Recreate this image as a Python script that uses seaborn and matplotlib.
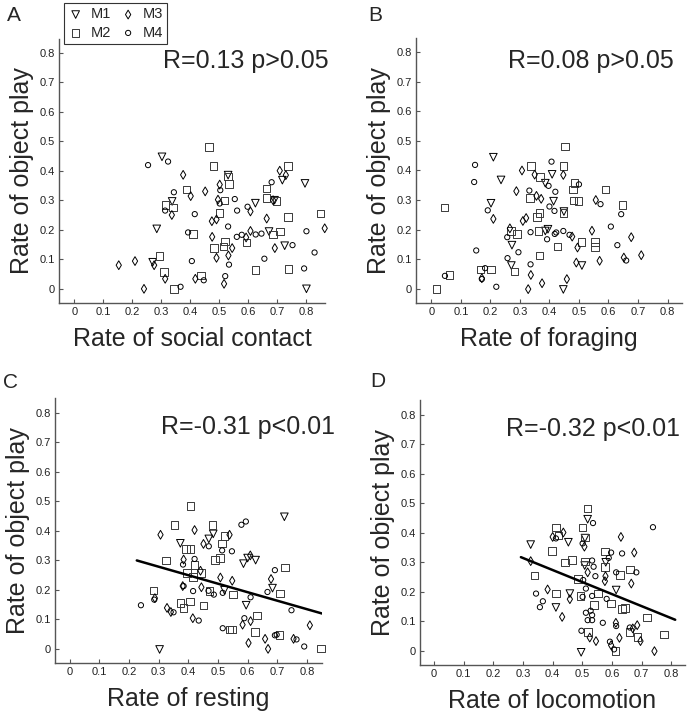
import numpy as np
import pandas as pd
from matplotlib import pyplot as plt
import seaborn as sns

# (rate of behaviour, rate of object play) pairs per monkey
social_M1 = [(0.302, 0.447), (0.337, 0.296), (0.284, 0.203), (0.27, 0.09), (0.624, 0.29), (0.53, 0.385),
             (0.717, 0.368), (0.795, 0.357), (0.671, 0.194), (0.725, 0.146), (0.80, 0.0), (0.69, 0.30)]
social_M2 = [(0.464, 0.481), (0.479, 0.416), (0.53, 0.38), (0.534, 0.356), (0.386, 0.336), (0.314, 0.283),
             (0.34, 0.275), (0.518, 0.299), (0.50, 0.256), (0.409, 0.185), (0.482, 0.139), (0.514, 0.143),
             (0.52, 0.16), (0.593, 0.157), (0.662, 0.34), (0.662, 0.307), (0.697, 0.298), (0.685, 0.184),
             (0.708, 0.194), (0.737, 0.243), (0.849, 0.255), (0.624, 0.063), (0.738, 0.067), (0.294, 0.112),
             (0.309, 0.056), (0.343, 0.0), (0.437, 0.045), (0.737, 0.416)]
social_M3 = [(0.153, 0.08), (0.209, 0.094), (0.24, 0.0), (0.275, 0.08), (0.313, 0.034), (0.336, 0.25),
             (0.375, 0.386), (0.401, 0.314), (0.451, 0.33), (0.417, 0.034), (0.475, 0.176), (0.474, 0.229),
             (0.49, 0.235), (0.501, 0.353), (0.495, 0.302), (0.49, 0.105), (0.516, 0.017), (0.531, 0.113),
             (0.544, 0.138), (0.592, 0.174), (0.607, 0.196), (0.607, 0.262), (0.663, 0.238), (0.691, 0.138),
             (0.685, 0.30), (0.708, 0.40), (0.729, 0.385), (0.863, 0.205)]
social_M4 = [(0.254, 0.419), (0.323, 0.431), (0.313, 0.265), (0.343, 0.327), (0.415, 0.253), (0.392, 0.191),
             (0.405, 0.094), (0.366, 0.007), (0.446, 0.029), (0.503, 0.334), (0.501, 0.289), (0.553, 0.304),
             (0.561, 0.265), (0.53, 0.211), (0.52, 0.043), (0.533, 0.082), (0.56, 0.176), (0.577, 0.183),
             (0.597, 0.278), (0.625, 0.184), (0.645, 0.187), (0.655, 0.102), (0.68, 0.361), (0.752, 0.148),
             (0.80, 0.195), (0.828, 0.123), (0.792, 0.069)]

forage_M1 = [(0.21, 0.445), (0.236, 0.368), (0.202, 0.289), (0.273, 0.147), (0.271, 0.078), (0.409, 0.387),
             (0.386, 0.357), (0.414, 0.296), (0.449, 0.261), (0.395, 0.201), (0.386, 0.195), (0.51, 0.078),
             (0.447, -0.003)]
forage_M2 = [(0.453, 0.481), (0.337, 0.416), (0.448, 0.416), (0.369, 0.379), (0.485, 0.357), (0.479, 0.336),
             (0.59, 0.336), (0.335, 0.307), (0.482, 0.299), (0.499, 0.297), (0.648, 0.283), (0.366, 0.255),
             (0.358, 0.242), (0.447, 0.255), (0.27, 0.195), (0.291, 0.184), (0.363, 0.195), (0.427, 0.143),
             (0.509, 0.158), (0.555, 0.157), (0.555, 0.14), (0.366, 0.112), (0.044, 0.275), (0.062, 0.046),
             (0.018, -0.002), (0.166, 0.065), (0.203, 0.065), (0.281, 0.058)]
forage_M3 = [(0.21, 0.236), (0.307, 0.40), (0.288, 0.33), (0.31, 0.229), (0.321, 0.239), (0.35, 0.386),
             (0.356, 0.314), (0.372, 0.304), (0.447, 0.385), (0.266, 0.204), (0.495, 0.139), (0.477, 0.176),
             (0.544, 0.196), (0.557, 0.30), (0.57, 0.094), (0.677, 0.174), (0.711, 0.113), (0.652, 0.105),
             (0.491, 0.088), (0.459, 0.032), (0.337, 0.046), (0.328, -0.002), (0.375, 0.018), (0.171, 0.035)]
forage_M4 = [(0.148, 0.419), (0.145, 0.361), (0.191, 0.265), (0.152, 0.129), (0.046, 0.043), (0.182, 0.069),
             (0.171, 0.032), (0.22, 0.006), (0.258, 0.103), (0.257, 0.174), (0.295, 0.123), (0.332, 0.332),
             (0.336, 0.191), (0.336, 0.082), (0.397, 0.348), (0.407, 0.43), (0.42, 0.328), (0.40, 0.278),
             (0.417, 0.263), (0.392, 0.167), (0.418, 0.185), (0.423, 0.19), (0.447, 0.195), (0.468, 0.182),
             (0.50, 0.353), (0.573, 0.286), (0.608, 0.21), (0.63, 0.147), (0.643, 0.252), (0.66, 0.095)]

rest_M1 = [(0.724, 0.447), (0.373, 0.357), (0.484, 0.389), (0.469, 0.372), (0.586, 0.288), (0.627, 0.30),
           (0.60, 0.307), (0.522, 0.198), (0.595, 0.147), (0.684, 0.205), (0.303, -0.003)]
rest_M2 = [(0.407, 0.483), (0.353, 0.419), (0.481, 0.419), (0.522, 0.382), (0.514, 0.357), (0.392, 0.338),
           (0.407, 0.338), (0.324, 0.299), (0.489, 0.301), (0.506, 0.308), (0.421, 0.283), (0.443, 0.257),
           (0.416, 0.242), (0.395, 0.257), (0.282, 0.197), (0.471, 0.195), (0.55, 0.183), (0.71, 0.187),
           (0.727, 0.275), (0.373, 0.155), (0.405, 0.16), (0.384, 0.138), (0.451, 0.146), (0.631, 0.112),
           (0.539, 0.064), (0.547, 0.064), (0.624, 0.057), (0.707, 0.045), (0.847, 0.0)]
rest_M3 = [(0.306, 0.386), (0.421, 0.402), (0.451, 0.355), (0.384, 0.302), (0.381, 0.212), (0.508, 0.241),
           (0.548, 0.23), (0.539, 0.386), (0.609, 0.316), (0.679, 0.236), (0.444, 0.208), (0.328, 0.138),
           (0.341, 0.124), (0.415, 0.103), (0.287, 0.171), (0.61, 0.093), (0.583, 0.081), (0.603, 0.019),
           (0.659, 0.033), (0.669, -0.001), (0.755, 0.033), (0.81, 0.079), (0.441, 0.264)]
rest_M4 = [(0.24, 0.147), (0.285, 0.166), (0.35, 0.123), (0.382, 0.285), (0.384, 0.212), (0.416, 0.195),
           (0.421, 0.304), (0.435, 0.095), (0.469, 0.347), (0.468, 0.196), (0.486, 0.183), (0.514, 0.333),
           (0.516, 0.189), (0.547, 0.33), (0.579, 0.42), (0.594, 0.431), (0.516, 0.069), (0.589, 0.103),
           (0.61, 0.174), (0.667, 0.192), (0.692, 0.266), (0.748, 0.13), (0.692, 0.045), (0.698, 0.047),
           (0.765, 0.031), (0.791, 0.007)]

loco_M1 = [(0.326, 0.36), (0.453, 0.368), (0.518, 0.446), (0.509, 0.382), (0.508, 0.289), (0.411, 0.147),
           (0.458, 0.194), (0.614, 0.206), (0.496, -0.005), (0.579, 0.30)]
loco_M2 = [(0.518, 0.482), (0.412, 0.418), (0.50, 0.418), (0.508, 0.384), (0.42, 0.391), (0.397, 0.338),
           (0.442, 0.299), (0.465, 0.308), (0.51, 0.303), (0.577, 0.337), (0.577, 0.285), (0.661, 0.276),
           (0.626, 0.256), (0.339, 0.255), (0.485, 0.244), (0.412, 0.194), (0.494, 0.185), (0.552, 0.194),
           (0.596, 0.16), (0.539, 0.155), (0.634, 0.142), (0.643, 0.146), (0.717, 0.113), (0.519, 0.064),
           (0.659, 0.064), (0.686, 0.047), (0.775, 0.056), (0.612, -0.001)]
loco_M3 = [(0.40, 0.386), (0.436, 0.401), (0.383, 0.208), (0.458, 0.175), (0.432, 0.115), (0.507, 0.353),
           (0.518, 0.266), (0.576, 0.236), (0.578, 0.253), (0.63, 0.386), (0.675, 0.333), (0.665, 0.228),
           (0.613, 0.095), (0.625, 0.044), (0.685, 0.087), (0.696, 0.033), (0.743, -0.001), (0.525, 0.045),
           (0.546, 0.033), (0.597, 0.019), (0.326, 0.304), (0.67, 0.076)]
loco_M4 = [(0.738, 0.419), (0.536, 0.433), (0.411, 0.381), (0.501, 0.364), (0.533, 0.306), (0.538, 0.285),
           (0.544, 0.253), (0.597, 0.333), (0.634, 0.33), (0.589, 0.315), (0.614, 0.266), (0.682, 0.266),
           (0.344, 0.194), (0.367, 0.168), (0.357, 0.148), (0.503, 0.24), (0.512, 0.211), (0.533, 0.186),
           (0.501, 0.183), (0.528, 0.136), (0.512, 0.129), (0.533, 0.121), (0.518, 0.104), (0.533, 0.104),
           (0.569, 0.095), (0.614, 0.084), (0.497, 0.068), (0.593, 0.031), (0.607, 0.005), (0.66, 0.079),
           (0.582, 0.176)]

# fitted lines (slope, intercept, x range) for the significant panels
rest_fit = (-0.288, 0.364, (0.226, 0.851))
loco_fit = (-0.408, 0.437, (0.293, 0.813))

panel_letters = ['A', 'B', 'C', 'D']
x_labels = ['Rate of social contact', 'Rate of foraging', 'Rate of resting', 'Rate of locomotion']
stats_text = ['R=0.13 p>0.05', 'R=0.08 p>0.05', 'R=-0.31 p<0.01', 'R=-0.32 p<0.01']
monkeys = ['M1', 'M2', 'M3', 'M4']
tick_vals = [0, 0.1, 0.2, 0.3, 0.4, 0.5, 0.6, 0.7, 0.8]
tick_text = ['0', '0.1', '0.2', '0.3', '0.4', '0.5', '0.6', '0.7', '0.8']

sns.set_style('white')
plt.rcParams['font.family'] = ['Liberation Sans', 'DejaVu Sans']

markers = {'M1': 'v', 'M2': 's', 'M3': 'd', 'M4': 'o'}
sizes = {'M1': 30, 'M2': 30, 'M3': 20, 'M4': 14}
edges = {'M1': 'black', 'M2': '#3a3a3a', 'M3': 'black', 'M4': 'black'}


def to_frame(groups):
    rows = []
    for name, pts in zip(monkeys, groups):
        for x, y in pts:
            rows.append({'x': x, 'y': y, 'monkey': name})
    return pd.DataFrame(rows)


panels = [to_frame([social_M1, social_M2, social_M3, social_M4]),
          to_frame([forage_M1, forage_M2, forage_M3, forage_M4]),
          to_frame([rest_M1, rest_M2, rest_M3, rest_M4]),
          to_frame([loco_M1, loco_M2, loco_M3, loco_M4])]
fits = [None, None, rest_fit, loco_fit]

W, H = 689, 717
fig = plt.figure(figsize=(W / 100, H / 100), dpi=100)
# axes boxes in pixels: left, top, right, bottom
boxes = [(59, 39, 325, 303), (416, 38, 682, 303), (55, 398, 322, 663), (420, 400, 685, 665)]
xlims = [(-0.053, 0.864), (-0.052, 0.849), (-0.05, 0.851), (-0.047, 0.846)]
ylims = [(-0.048, 0.846), (-0.049, 0.849), (-0.049, 0.85), (-0.048, 0.85)]
text_pos = [(0.875, 0.77), (0.822, 0.77), (0.896, 0.75), (0.829, 0.753)]
letter_pos = [(7, 21), (368, 21), (3, 388), (370, 387)]

axes = []
for i, df in enumerate(panels):
    l, t, r, b = boxes[i]
    ax = fig.add_axes([l / W, 1 - b / H, (r - l) / W, (b - t) / H])
    axes.append(ax)
    for m in monkeys:
        sub = df[df.monkey == m]
        sns.scatterplot(x=sub.x, y=sub.y, marker=markers[m], s=sizes[m], facecolor='none',
                        edgecolor=edges[m], linewidth=0.7, ax=ax, label=m, legend=False,
                        clip_on=False)
    if fits[i] is not None:
        slope, icpt, (x0, x1) = fits[i]
        xs = np.array([x0, x1])
        ax.plot(xs, slope * xs + icpt, color='black', lw=1.8)
    ax.set_xlim(*xlims[i])
    ax.set_ylim(*ylims[i])
    ax.set_xticks(tick_vals)
    ax.set_yticks(tick_vals)
    ax.set_xticklabels(tick_text)
    ax.set_yticklabels(tick_text)
    ax.tick_params(axis='both', labelsize=8, length=3, width=0.8, colors='#555555',
                   labelcolor='#222222', pad=3, direction='in', left=True, bottom=True)
    sns.despine(ax=ax)
    for s in ['left', 'bottom']:
        ax.spines[s].set_color('#555555')
        ax.spines[s].set_linewidth(1.0)
    ax.set_xlabel(x_labels[i], fontsize=18, labelpad=7)
    ax.set_ylabel('Rate of object play', fontsize=18, labelpad=4)
    ax.text(text_pos[i][0], text_pos[i][1], stats_text[i], fontsize=18, ha='right', va='center')
    fig.text(letter_pos[i][0] / W, 1 - letter_pos[i][1] / H, panel_letters[i], fontsize=15,
             ha='left', va='baseline')

handles, labels = axes[0].get_legend_handles_labels()
leg = fig.legend(handles, labels, ncol=2, loc='upper left', bbox_to_anchor=(64 / W, 1 - 3 / H),
                 fontsize=10.5, frameon=True, fancybox=False, framealpha=1, borderpad=0.3,
                 labelspacing=0.3, handlelength=1.0, handletextpad=0.5, columnspacing=0.7,
                 borderaxespad=0)
leg.get_frame().set_edgecolor('#333333')
leg.get_frame().set_linewidth(0.8)

fig.savefig('out.png', dpi=100)
